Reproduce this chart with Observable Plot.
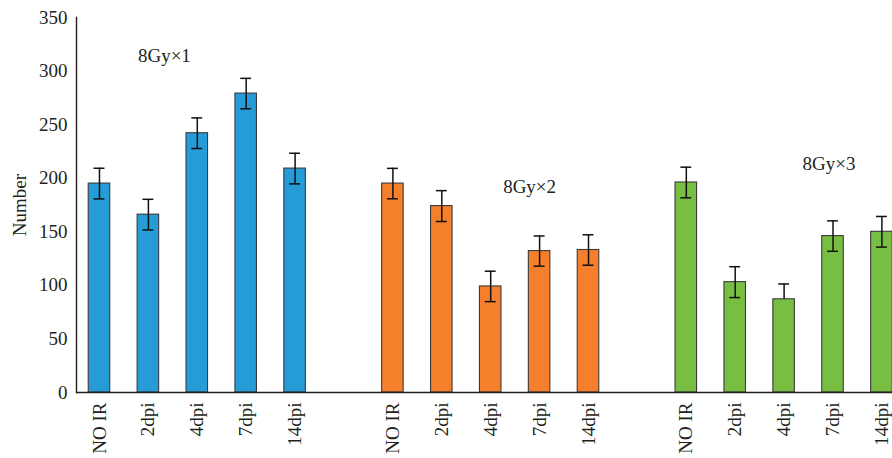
<!DOCTYPE html>
<html>
<head>
<meta charset="utf-8">
<script src="https://cdn.jsdelivr.net/npm/d3@7"></script>
<script src="https://cdn.jsdelivr.net/npm/@observablehq/plot@0.6"></script>
<style>
  html, body { margin: 0; padding: 0; background: white; overflow: hidden; }
</style>
</head>
<body>
<div id="chart"></div>
<script>
const groups = ["8Gy×1", "8Gy×2", "8Gy×3"];
const timepoints = ["NO IR", "2dpi", "4dpi", "7dpi", "14dpi"];
const colors = ["#259bd7", "#f57f2a", "#78be43"];

const valuesG1 = [195, 166, 242, 279, 209];
const valuesG2 = [195, 174, 99, 132, 133];
const valuesG3 = [196, 103, 87, 146, 150];

const errUpG1 = [14.3, 14.3, 14.3, 14.2, 14.3];
const errUpG2 = [14.2, 14.4, 14.2, 14.1, 14.2];
const errUpG3 = [14.3, 14.4, 14.3, 14.2, 14.3];

const errDownG1 = [14.3, 14.3, 14.3, 14.2, 14.3];
const errDownG2 = [14.2, 14.4, 14.2, 14.1, 14.2];
const errDownG3 = [14.3, 14.4, 0, 14.2, 14.3];

const yTicks = [0, 50, 100, 150, 200, 250, 300, 350];

const annotations = [
  {text: "8Gy×1", group: "8Gy×1", time: "2dpi", y: 314},
  {text: "8Gy×2", group: "8Gy×2", time: "7dpi", y: 192},
  {text: "8Gy×3", group: "8Gy×3", time: "7dpi", y: 213}
];
const annotationShift = [16, -10, -4];

const valueSets = [valuesG1, valuesG2, valuesG3];
const upSets = [errUpG1, errUpG2, errUpG3];
const downSets = [errDownG1, errDownG2, errDownG3];

const key = (g, t) => g + "|" + t;
const rows = [];
const domain = [];
const tickKeys = [];
groups.forEach((g, gi) => {
  if (gi > 0) domain.push("gap" + gi);
  timepoints.forEach((t, ti) => {
    const k = key(g, t);
    domain.push(k);
    tickKeys.push(k);
    const v = valueSets[gi][ti];
    rows.push({key: k, group: g, time: t, value: v,
      lo: v - downSets[gi][ti], hi: v + upSets[gi][ti]});
  });
});
const annoRows = annotations.map(a => ({...a, key: key(a.group, a.time)}));

const ink = "#231f20";

const chart = Plot.plot({
  width: 892,
  height: 458,
  marginLeft: 76,
  marginRight: 0,
  marginTop: 17,
  marginBottom: 66,
  style: {fontFamily: "'Liberation Serif', 'Times New Roman', serif", fontSize: "19px", color: ink, background: "white"},
  x: {domain, range: [76, 904.4], paddingInner: 0.56, paddingOuter: 0.25, round: false, axis: null},
  y: {domain: [0, 350], axis: null},
  color: {domain: groups, range: colors},
  marks: [
    Plot.barY(rows, {x: "key", y: "value", fill: "group", stroke: "#3a3a3a", strokeWidth: 1.1}),
    Plot.ruleX(rows, {x: "key", y1: "lo", y2: "hi", stroke: "#111", strokeWidth: 1.5}),
    Plot.tickY(rows, {x: "key", y: "hi", stroke: "#111", strokeWidth: 1.5, insetLeft: 5.3, insetRight: 5.3}),
    Plot.tickY(rows.filter(d => d.lo < d.value), {x: "key", y: "lo", stroke: "#111", strokeWidth: 1.5, insetLeft: 5.3, insetRight: 5.3}),
    Plot.ruleY([0], {stroke: ink, strokeWidth: 1.4}),
    Plot.frame({anchor: "left", stroke: ink, strokeWidth: 1.4}),
    Plot.axisY({ticks: yTicks, tickSize: 0, tickPadding: 9, label: "Number", labelAnchor: "center", labelOffset: 64, labelArrow: "none", fill: ink}),
    Plot.axisX({ticks: tickKeys, tickFormat: d => d.split("|")[1], tickRotate: -90, tickSize: 0, tickPadding: 10, label: null, fill: ink}),
    ...annoRows.map((a, i) => Plot.text([a], {x: "key", y: "y", text: "text", dx: annotationShift[i], fill: ink, fontSize: 19}))
  ]
});
document.getElementById("chart").appendChild(chart);
</script>
</body>
</html>
